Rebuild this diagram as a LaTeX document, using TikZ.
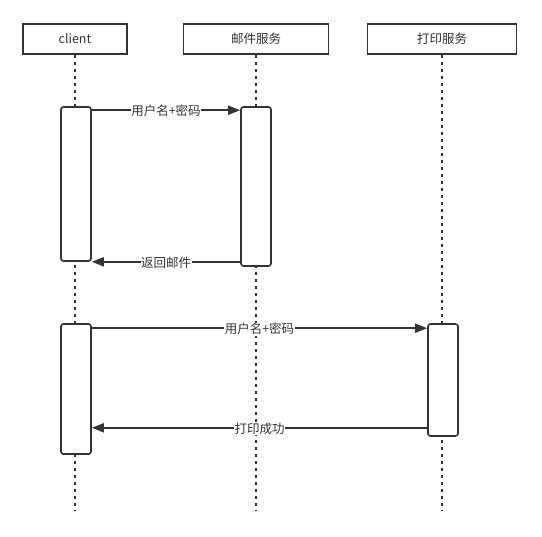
\documentclass[tikz,border=0pt]{standalone}
\usepackage{fontspec}
\newfontfamily\cjk{Noto Sans CJK SC}
\usetikzlibrary{arrows.meta}
\definecolor{ln}{HTML}{333333}
\tikzset{
  every node/.style={font=\cjk\fontsize{12.5pt}{15pt}\selectfont, text=ln},
  head/.style={draw=ln, line width=1.8pt, fill=white, minimum height=30pt, inner sep=0pt},
  act/.style={draw=ln, line width=1.6pt, fill=white, rounded corners=2.5pt, minimum width=30pt, inner sep=0pt},
  life/.style={draw=ln, line width=1.8pt, dash pattern=on 3pt off 4pt},
  msg/.style={draw=ln, line width=1.8pt, -{Triangle[length=12pt,width=9pt]}},
  lbl/.style={fill=white, inner sep=0.5pt, yshift=-1pt}
}
\begin{document}
\begin{tikzpicture}[x=1pt,y=-1pt]
\useasboundingbox (0,0) rectangle (542,537);
% lifeline ends
\coordinate (e1) at (75,510);
\coordinate (e2) at (256,510);
\coordinate (e3) at (442,510);
% headers
\node[head, minimum width=104pt] (h1) at (75,39) {client};
\node[head, minimum width=145pt] (h2) at (256,39) {邮件服务};
\node[head, minimum width=149pt] (h3) at (442,39) {打印服务};
% lifelines
\draw[life] (h1.south) -- (e1);
\draw[life] (h2.south) -- (e2);
\draw[life] (h3.south) -- (e3);
% activations
\node[act, minimum height=154pt] (a1) at (76,184) {};
\node[act, minimum height=159pt] (a2) at (256,186.5) {};
\node[act, minimum height=130pt] (a3) at (76,389) {};
\node[act, minimum height=112pt] (a4) at (443,380) {};
% messages
\draw[msg] ([yshift=-4pt]a1.north east) -- node[lbl, pos=0.5] (m1) {用户名+密码} ([yshift=-4pt]a2.north west);
\draw[msg] ([yshift=5pt]a2.south west) -- node[lbl, pos=0.5] (m2) {返回邮件} ([yshift=0pt]a1.south east);
\draw[msg] ([yshift=-5pt]a3.north east) -- node[lbl, pos=0.5] (m3) {用户名+密码} ([yshift=-5pt]a4.north west);
\draw[msg] ([yshift=9pt]a4.south west) -- node[lbl, pos=0.5] (m4) {打印成功} ([yshift=27pt]a3.south east);
\end{tikzpicture}
\end{document}
